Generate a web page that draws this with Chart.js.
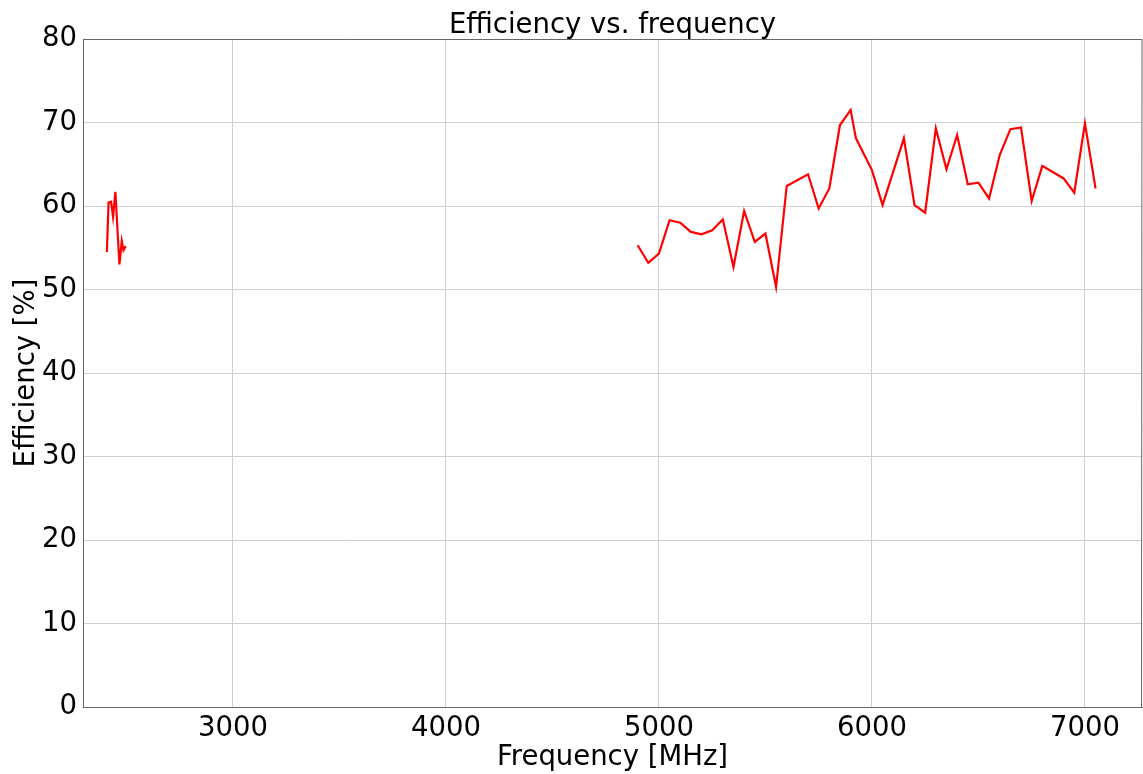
<!DOCTYPE html>
<html>
<head>
<meta charset="utf-8">
<script src="https://cdn.jsdelivr.net/npm/chart.js@4/dist/chart.umd.min.js"></script>
<style>
  body { margin: 0; background: #fff; }
</style>
</head>
<body>
<canvas id="chart" width="1143" height="774"></canvas>
<script>
// 2.4 GHz band
const freqLow = [2408, 2416, 2428, 2437, 2448, 2467, 2478, 2486, 2497];
const effLow  = [54.5, 60.4, 60.5, 58.7, 61.7, 53.0, 55.8, 54.7, 55.2];

// 5-7 GHz band
const freqHigh = [4900, 4950, 5000, 5050, 5100, 5150, 5200, 5250, 5300, 5350,
                  5400, 5450, 5500, 5550, 5600, 5700, 5750, 5800, 5850, 5900,
                  5925, 6000, 6050, 6150, 6200, 6250, 6300, 6350, 6400, 6450,
                  6500, 6550, 6600, 6650, 6700, 6750, 6800, 6900, 6950, 7000, 7050];
const effHigh  = [55.3, 53.2, 54.3, 58.3, 58.0, 56.9, 56.6, 57.1, 58.4, 52.7,
                  59.4, 55.7, 56.7, 50.3, 62.4, 63.8, 59.7, 62.1, 69.7, 71.5,
                  68.1, 64.3, 60.1, 68.1, 60.1, 59.2, 69.3, 64.4, 68.5, 62.6,
                  62.8, 60.9, 66.1, 69.2, 69.4, 60.6, 64.8, 63.3, 61.6, 69.9, 62.1];

const xTicks = [3000, 4000, 5000, 6000, 7000];
const yTicks = [0, 10, 20, 30, 40, 50, 60, 70, 80];

const FONT = "'DejaVu Sans', sans-serif";
const SIZE = 27.5;

function toPoints(xs, ys) {
    return xs.map((x, i) => ({ x: x, y: ys[i] }));
}

// cadre haut + droite (comme les spines matplotlib)
const framePlugin = {
    id: 'frame',
    afterDraw(chart) {
        const { ctx, chartArea } = chart;
        ctx.save();
        ctx.strokeStyle = '#666';
        ctx.lineWidth = 1;
        ctx.beginPath();
        ctx.moveTo(chartArea.left, chartArea.top + 0.5);
        ctx.lineTo(chartArea.right, chartArea.top + 0.5);
        ctx.lineTo(chartArea.right - 0.5, chartArea.bottom);
        ctx.stroke();
        ctx.restore();
    }
};

const ctx = document.getElementById('chart').getContext('2d');
const chart = new Chart(ctx, {
    type: 'line',
    data: {
        datasets: [{
            data: toPoints(freqLow, effLow),
            borderColor: '#ff0000',
            borderWidth: 2.2,
            pointRadius: 0,
            tension: 0
        }, {
            data: toPoints(freqHigh, effHigh),
            borderColor: '#ff0000',
            borderWidth: 2.2,
            pointRadius: 0,
            tension: 0
        }]
    },
    options: {
        responsive: false,
        animation: false,
        layout: { padding: { left: 0, right: 1, top: 0, bottom: 0 } },
        plugins: {
            legend: { display: false },
            tooltip: { enabled: false },
            title: {
                display: true,
                fullSize: false,
                text: 'Efficiency vs. frequency',
                color: '#000',
                font: { family: FONT, size: SIZE, weight: 'normal', lineHeight: 1.2 },
                padding: { top: 9, bottom: -3 }
            }
        },
        scales: {
            x: {
                type: 'linear',
                min: 2296,
                max: 7268,
                afterBuildTicks: (axis) => { axis.ticks = xTicks.map(v => ({ value: v })); },
                afterFit: (axis) => { axis.height = 67; },
                grid: { color: '#d0d0d0', lineWidth: 1, drawTicks: false },
                border: { color: '#666', width: 1 },
                ticks: {
                    color: '#000',
                    padding: 5,
                    maxRotation: 0,
                    font: { family: FONT, size: SIZE },
                    callback: (v) => String(v)
                },
                title: {
                    display: true,
                    text: 'Frequency [MHz]',
                    color: '#000',
                    font: { family: FONT, size: SIZE },
                    padding: { top: 0, bottom: 0 }
                }
            },
            y: {
                min: 0,
                max: 80,
                afterBuildTicks: (axis) => { axis.ticks = yTicks.map(v => ({ value: v })); },
                afterFit: (axis) => { axis.width = 83; },
                grid: { color: '#d0d0d0', lineWidth: 1, drawTicks: false },
                border: { color: '#666', width: 1 },
                ticks: {
                    color: '#000',
                    padding: 6,
                    font: { family: FONT, size: SIZE },
                    callback: (v) => String(v)
                },
                title: {
                    display: true,
                    text: 'Efficiency [%]',
                    color: '#000',
                    font: { family: FONT, size: SIZE },
                    padding: { top: 10, bottom: 0 }
                }
            }
        }
    },
    plugins: [framePlugin]
});
</script>
</body>
</html>
